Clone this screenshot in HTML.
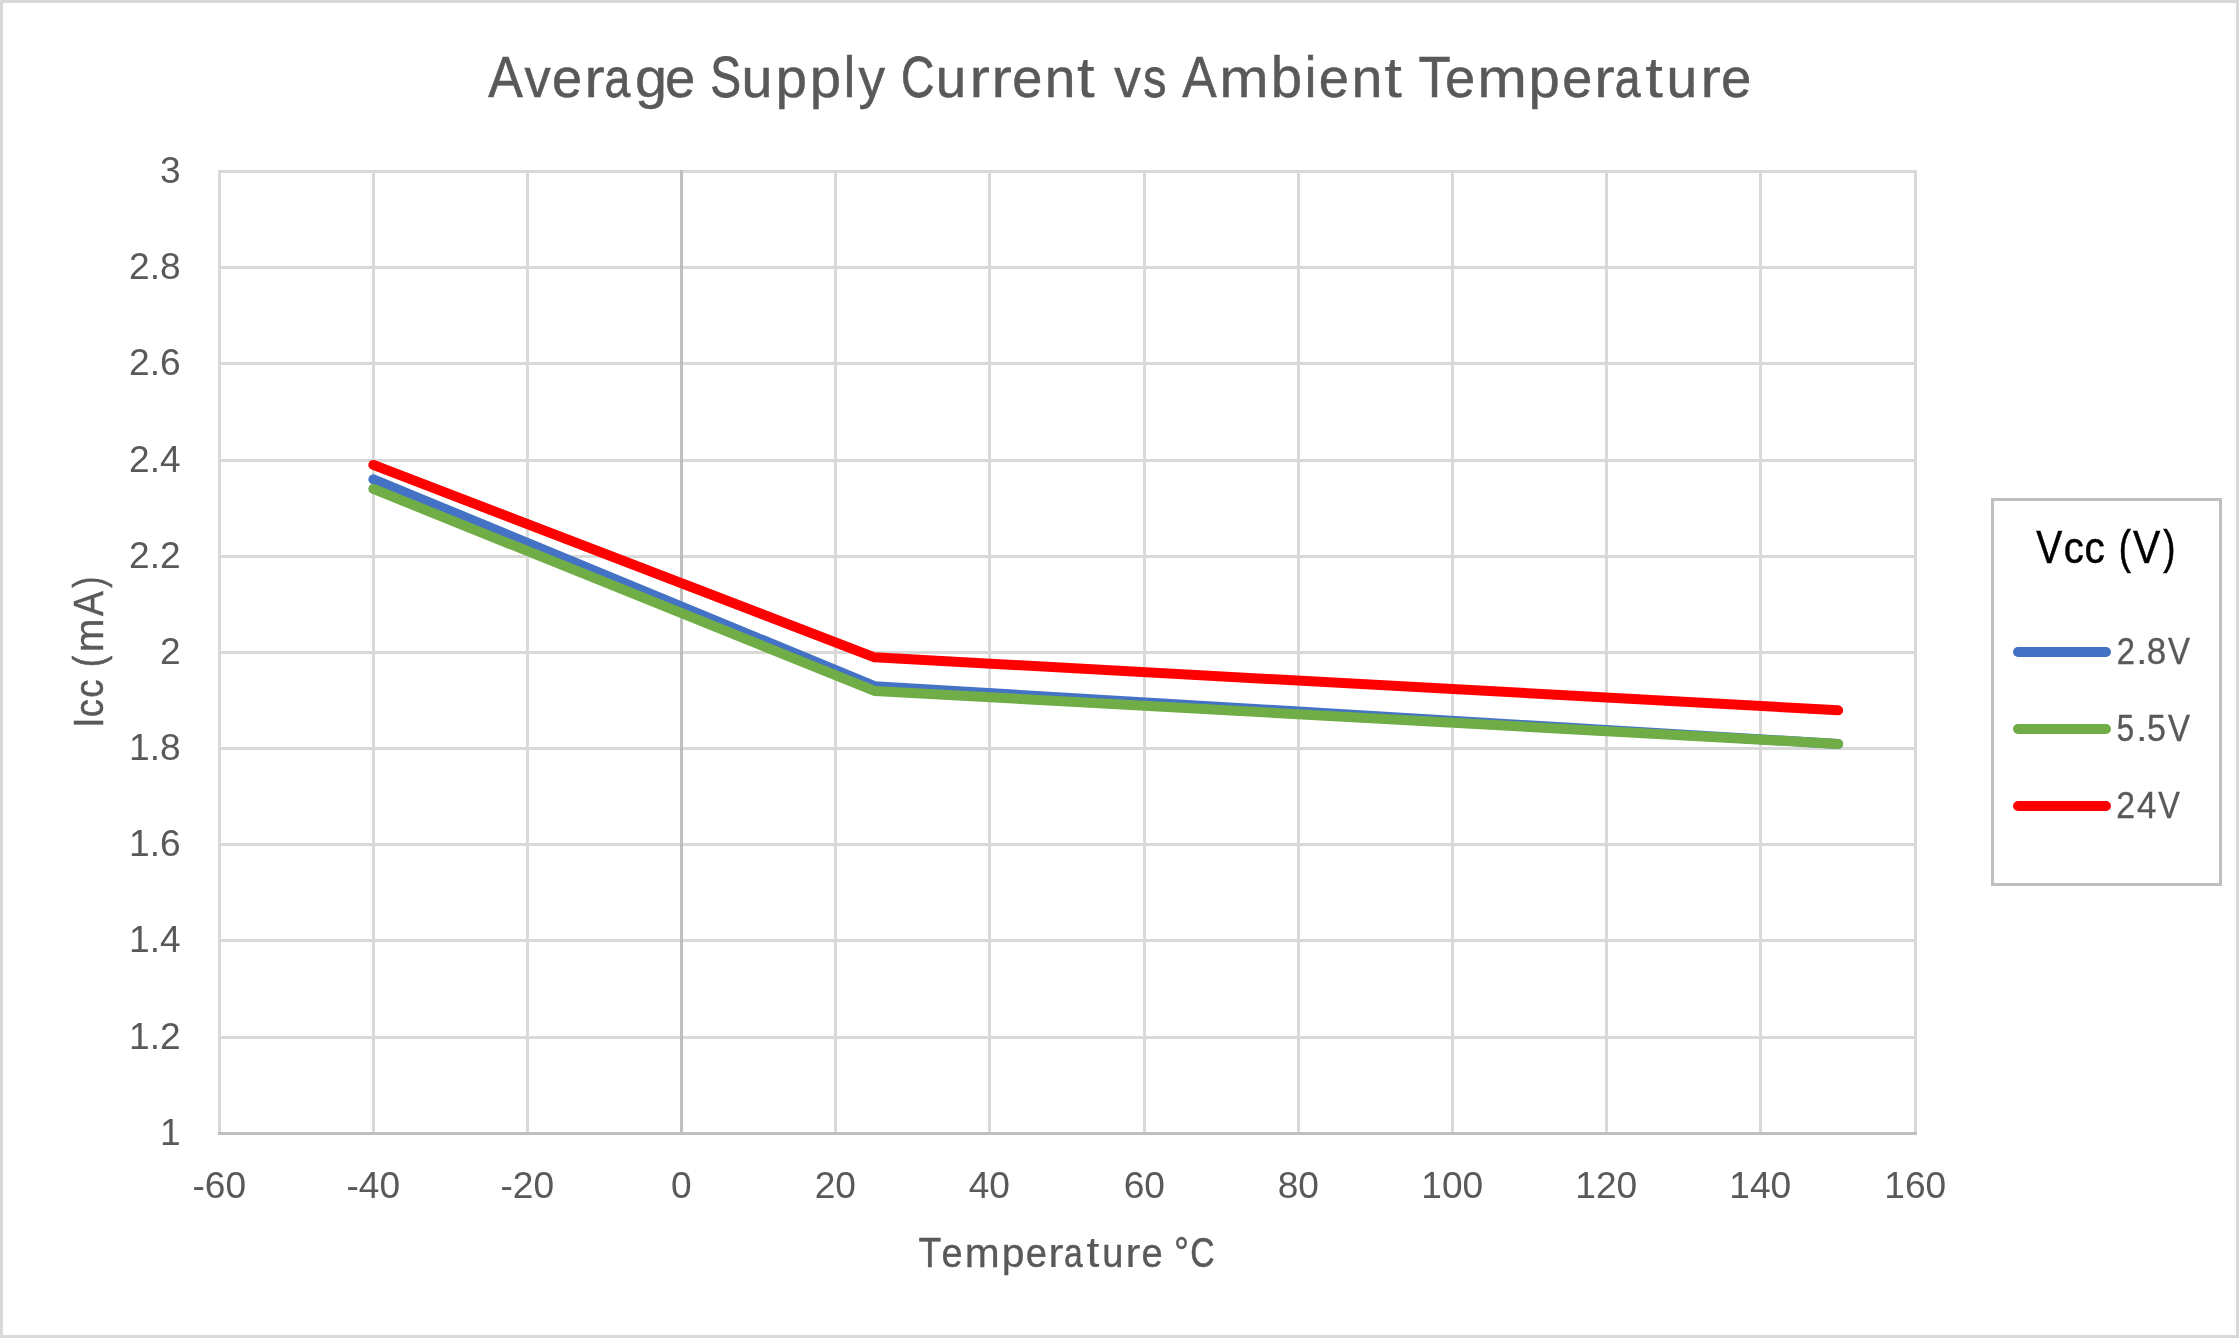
<!DOCTYPE html>
<html><head><meta charset="utf-8"><title>Average Supply Current vs Ambient Temperature</title>
<style>
html,body{margin:0;padding:0;background:#fff;}
body{width:2239px;height:1338px;overflow:hidden;font-family:"Liberation Sans",sans-serif;}
svg{display:block;will-change:transform;}
text{font-family:"Liberation Sans",sans-serif;fill:#595959;}
</style></head><body>
<svg width="2239" height="1338" viewBox="0 0 2239 1338">
<rect x="0" y="0" width="2239" height="1338" fill="#fff"/>
<rect x="1.5" y="1.5" width="2236" height="1335" fill="none" stroke="#D9D9D9" stroke-width="3"/>

<g stroke="#D9D9D9" stroke-width="3" fill="none">
<line x1="218.0" y1="171.50" x2="1917.0" y2="171.50"/>
<line x1="218.0" y1="267.50" x2="1917.0" y2="267.50"/>
<line x1="218.0" y1="363.50" x2="1917.0" y2="363.50"/>
<line x1="218.0" y1="460.50" x2="1917.0" y2="460.50"/>
<line x1="218.0" y1="556.50" x2="1917.0" y2="556.50"/>
<line x1="218.0" y1="652.50" x2="1917.0" y2="652.50"/>
<line x1="218.0" y1="748.50" x2="1917.0" y2="748.50"/>
<line x1="218.0" y1="844.50" x2="1917.0" y2="844.50"/>
<line x1="218.0" y1="940.50" x2="1917.0" y2="940.50"/>
<line x1="218.0" y1="1037.50" x2="1917.0" y2="1037.50"/>
<line x1="219.50" y1="170.0" x2="219.50" y2="1135.0"/>
<line x1="373.50" y1="170.0" x2="373.50" y2="1135.0"/>
<line x1="527.50" y1="170.0" x2="527.50" y2="1135.0"/>
<line x1="835.50" y1="170.0" x2="835.50" y2="1135.0"/>
<line x1="989.50" y1="170.0" x2="989.50" y2="1135.0"/>
<line x1="1144.50" y1="170.0" x2="1144.50" y2="1135.0"/>
<line x1="1298.50" y1="170.0" x2="1298.50" y2="1135.0"/>
<line x1="1452.50" y1="170.0" x2="1452.50" y2="1135.0"/>
<line x1="1606.50" y1="170.0" x2="1606.50" y2="1135.0"/>
<line x1="1760.50" y1="170.0" x2="1760.50" y2="1135.0"/>
<line x1="1915.50" y1="170.0" x2="1915.50" y2="1135.0"/>
</g>
<g stroke="#BFBFBF" stroke-width="3" fill="none">
<line x1="218.0" y1="1133.5" x2="1917.0" y2="1133.5"/>
<line x1="681.5" y1="170.0" x2="681.5" y2="1135.0"/>
</g>
<g fill="none" stroke-width="10" stroke-linecap="round" stroke-linejoin="round">
<polyline stroke="#4472C4" points="373.38,479.34 874.47,686.17 1838.11,743.89"/>
<polyline stroke="#70AD47" points="373.38,488.96 874.47,690.98 1838.11,743.89"/>
<polyline stroke="#FF0000" points="373.38,464.91 874.47,657.31 1838.11,710.22"/>
</g>
<rect x="1992.5" y="499.5" width="228" height="385" fill="#fff" stroke="#BFBFBF" stroke-width="3"/>
<line x1="2018" y1="652" x2="2106" y2="652" stroke="#4472C4" stroke-width="10" stroke-linecap="round"/>
<line x1="2018" y1="729" x2="2106" y2="729" stroke="#70AD47" stroke-width="10" stroke-linecap="round"/>
<line x1="2018" y1="806" x2="2106" y2="806" stroke="#FF0000" stroke-width="10" stroke-linecap="round"/>
<text transform="translate(488.15,96.9) scale(0.8976,1)" font-size="57.8" vector-effect="non-scaling-stroke" style="fill:#595959;stroke:#595959;stroke-width:0.55px">A</text>
<text transform="translate(524.57,96.9) scale(0.9051,0.962)" font-size="57.8" vector-effect="non-scaling-stroke" style="fill:#595959;stroke:#595959;stroke-width:0.54px">v</text>
<text transform="translate(551.95,96.9) scale(0.9365,0.962)" font-size="57.8" vector-effect="non-scaling-stroke" style="fill:#595959;stroke:#595959;stroke-width:0.50px">e</text>
<text transform="translate(584.16,96.9) scale(1.0657,0.962)" font-size="57.8" vector-effect="non-scaling-stroke" style="fill:#595959;stroke:#595959;stroke-width:0.30px">r</text>
<text transform="translate(604.61,96.9) scale(0.8000,0.962)" font-size="57.8" vector-effect="non-scaling-stroke" style="fill:#595959;stroke:#595959;stroke-width:0.70px">a</text>
<text transform="translate(634.93,96.9) scale(0.9964,0.962)" font-size="57.8" vector-effect="non-scaling-stroke" style="fill:#595959;stroke:#595959;stroke-width:0.41px">g</text>
<text transform="translate(665.04,96.9) scale(0.9402,0.962)" font-size="57.8" vector-effect="non-scaling-stroke" style="fill:#595959;stroke:#595959;stroke-width:0.49px">e</text>
<text transform="translate(710.14,96.9) scale(0.8000,1)" font-size="57.8" vector-effect="non-scaling-stroke" style="fill:#595959;stroke:#595959;stroke-width:0.70px">S</text>
<text transform="translate(741.44,96.9) scale(0.9612,0.962)" font-size="57.8" vector-effect="non-scaling-stroke" style="fill:#595959;stroke:#595959;stroke-width:0.46px">u</text>
<text transform="translate(775.60,96.9) scale(0.9810,0.962)" font-size="57.8" vector-effect="non-scaling-stroke" style="fill:#595959;stroke:#595959;stroke-width:0.43px">p</text>
<text transform="translate(809.72,96.9) scale(0.9733,0.962)" font-size="57.8" vector-effect="non-scaling-stroke" style="fill:#595959;stroke:#595959;stroke-width:0.44px">p</text>
<text transform="translate(843.80,96.9) scale(0.8858,1)" font-size="57.8" vector-effect="non-scaling-stroke" style="fill:#595959;stroke:#595959;stroke-width:0.57px">l</text>
<text transform="translate(858.42,96.9) scale(0.9181,0.962)" font-size="57.8" vector-effect="non-scaling-stroke" style="fill:#595959;stroke:#595959;stroke-width:0.52px">y</text>
<text transform="translate(900.96,96.9) scale(0.8000,1)" font-size="57.8" vector-effect="non-scaling-stroke" style="fill:#595959;stroke:#595959;stroke-width:0.70px">C</text>
<text transform="translate(935.79,96.9) scale(0.9489,0.962)" font-size="57.8" vector-effect="non-scaling-stroke" style="fill:#595959;stroke:#595959;stroke-width:0.48px">u</text>
<text transform="translate(969.39,96.9) scale(1.0588,0.962)" font-size="57.8" vector-effect="non-scaling-stroke" style="fill:#595959;stroke:#595959;stroke-width:0.31px">r</text>
<text transform="translate(991.23,96.9) scale(1.0727,0.962)" font-size="57.8" vector-effect="non-scaling-stroke" style="fill:#595959;stroke:#595959;stroke-width:0.29px">r</text>
<text transform="translate(1012.15,96.9) scale(0.9365,0.962)" font-size="57.8" vector-effect="non-scaling-stroke" style="fill:#595959;stroke:#595959;stroke-width:0.50px">e</text>
<text transform="translate(1044.79,96.9) scale(0.9530,0.962)" font-size="57.8" vector-effect="non-scaling-stroke" style="fill:#595959;stroke:#595959;stroke-width:0.47px">n</text>
<text transform="translate(1077.12,96.9) scale(1.1000,1)" font-size="57.8" vector-effect="non-scaling-stroke" style="fill:#595959;stroke:#595959;stroke-width:0.25px">t</text>
<text transform="translate(1114.17,96.9) scale(0.9191,0.962)" font-size="57.8" vector-effect="non-scaling-stroke" style="fill:#595959;stroke:#595959;stroke-width:0.52px">v</text>
<text transform="translate(1143.23,96.9) scale(0.8000,0.962)" font-size="57.8" vector-effect="non-scaling-stroke" style="fill:#595959;stroke:#595959;stroke-width:0.70px">s</text>
<text transform="translate(1182.35,96.9) scale(0.8923,1)" font-size="57.8" vector-effect="non-scaling-stroke" style="fill:#595959;stroke:#595959;stroke-width:0.56px">A</text>
<text transform="translate(1219.31,96.9) scale(1.0272,0.962)" font-size="57.8" vector-effect="non-scaling-stroke" style="fill:#595959;stroke:#595959;stroke-width:0.36px">m</text>
<text transform="translate(1270.71,96.9) scale(0.9772,1)" font-size="57.8" vector-effect="non-scaling-stroke" style="fill:#595959;stroke:#595959;stroke-width:0.43px">b</text>
<text transform="translate(1304.65,96.9) scale(0.9055,1)" font-size="57.8" vector-effect="non-scaling-stroke" style="fill:#595959;stroke:#595959;stroke-width:0.54px">i</text>
<text transform="translate(1318.84,96.9) scale(0.9402,0.962)" font-size="57.8" vector-effect="non-scaling-stroke" style="fill:#595959;stroke:#595959;stroke-width:0.49px">e</text>
<text transform="translate(1351.46,96.9) scale(0.9612,0.962)" font-size="57.8" vector-effect="non-scaling-stroke" style="fill:#595959;stroke:#595959;stroke-width:0.46px">n</text>
<text transform="translate(1384.27,96.9) scale(1.1000,1)" font-size="57.8" vector-effect="non-scaling-stroke" style="fill:#595959;stroke:#595959;stroke-width:0.25px">t</text>
<text transform="translate(1418.57,96.9) scale(0.9088,1)" font-size="57.8" vector-effect="non-scaling-stroke" style="fill:#595959;stroke:#595959;stroke-width:0.54px">T</text>
<text transform="translate(1444.94,96.9) scale(0.9402,0.962)" font-size="57.8" vector-effect="non-scaling-stroke" style="fill:#595959;stroke:#595959;stroke-width:0.49px">e</text>
<text transform="translate(1477.19,96.9) scale(1.0321,0.962)" font-size="57.8" vector-effect="non-scaling-stroke" style="fill:#595959;stroke:#595959;stroke-width:0.35px">m</text>
<text transform="translate(1528.62,96.9) scale(0.9733,0.962)" font-size="57.8" vector-effect="non-scaling-stroke" style="fill:#595959;stroke:#595959;stroke-width:0.44px">p</text>
<text transform="translate(1562.16,96.9) scale(0.9328,0.962)" font-size="57.8" vector-effect="non-scaling-stroke" style="fill:#595959;stroke:#595959;stroke-width:0.50px">e</text>
<text transform="translate(1594.11,96.9) scale(1.0796,0.962)" font-size="57.8" vector-effect="non-scaling-stroke" style="fill:#595959;stroke:#595959;stroke-width:0.28px">r</text>
<text transform="translate(1614.81,96.9) scale(0.8000,0.962)" font-size="57.8" vector-effect="non-scaling-stroke" style="fill:#595959;stroke:#595959;stroke-width:0.70px">a</text>
<text transform="translate(1645.22,96.9) scale(1.1000,1)" font-size="57.8" vector-effect="non-scaling-stroke" style="fill:#595959;stroke:#595959;stroke-width:0.25px">t</text>
<text transform="translate(1666.56,96.9) scale(0.9571,0.962)" font-size="57.8" vector-effect="non-scaling-stroke" style="fill:#595959;stroke:#595959;stroke-width:0.46px">u</text>
<text transform="translate(1700.13,96.9) scale(1.0727,0.962)" font-size="57.8" vector-effect="non-scaling-stroke" style="fill:#595959;stroke:#595959;stroke-width:0.29px">r</text>
<text transform="translate(1721.03,96.9) scale(0.9439,0.962)" font-size="57.8" vector-effect="non-scaling-stroke" style="fill:#595959;stroke:#595959;stroke-width:0.48px">e</text>
<text transform="translate(918.51,1267.4) scale(0.8864,1)" font-size="42.0" vector-effect="non-scaling-stroke" style="fill:#595959;stroke:#595959;stroke-width:0.41px">T</text>
<text transform="translate(941.54,1267.4) scale(0.9006,0.962)" font-size="42.0" vector-effect="non-scaling-stroke" style="fill:#595959;stroke:#595959;stroke-width:0.40px">e</text>
<text transform="translate(964.66,1267.4) scale(0.9990,0.962)" font-size="42.0" vector-effect="non-scaling-stroke" style="fill:#595959;stroke:#595959;stroke-width:0.29px">m</text>
<text transform="translate(1001.71,1267.4) scale(0.9742,0.962)" font-size="42.0" vector-effect="non-scaling-stroke" style="fill:#595959;stroke:#595959;stroke-width:0.32px">p</text>
<text transform="translate(1025.63,1267.4) scale(0.9083,0.962)" font-size="42.0" vector-effect="non-scaling-stroke" style="fill:#595959;stroke:#595959;stroke-width:0.39px">e</text>
<text transform="translate(1048.16,1267.4) scale(1.0905,0.962)" font-size="42.0" vector-effect="non-scaling-stroke" style="fill:#595959;stroke:#595959;stroke-width:0.19px">r</text>
<text transform="translate(1063.99,1267.4) scale(0.8000,0.962)" font-size="42.0" vector-effect="non-scaling-stroke" style="fill:#595959;stroke:#595959;stroke-width:0.51px">a</text>
<text transform="translate(1086.45,1267.4) scale(1.1000,1)" font-size="42.0" vector-effect="non-scaling-stroke" style="fill:#595959;stroke:#595959;stroke-width:0.18px">t</text>
<text transform="translate(1102.19,1267.4) scale(0.9024,0.962)" font-size="42.0" vector-effect="non-scaling-stroke" style="fill:#595959;stroke:#595959;stroke-width:0.40px">u</text>
<text transform="translate(1125.58,1267.4) scale(1.0667,0.962)" font-size="42.0" vector-effect="non-scaling-stroke" style="fill:#595959;stroke:#595959;stroke-width:0.22px">r</text>
<text transform="translate(1141.53,1267.4) scale(0.9083,0.962)" font-size="42.0" vector-effect="non-scaling-stroke" style="fill:#595959;stroke:#595959;stroke-width:0.39px">e</text>
<text transform="translate(1173.92,1267.4) scale(0.8920,1)" font-size="42.0" vector-effect="non-scaling-stroke" style="fill:#595959;stroke:#595959;stroke-width:0.41px">°</text>
<text transform="translate(1190.20,1267.4) scale(0.8000,1)" font-size="42.0" vector-effect="non-scaling-stroke" style="fill:#595959;stroke:#595959;stroke-width:0.51px">C</text>
<text transform="translate(2036.28,563.1) scale(0.8511,1)" font-size="45.7" vector-effect="non-scaling-stroke" style="fill:#000000;stroke:#000000;stroke-width:0.49px">V</text>
<text transform="translate(2063.65,563.1) scale(0.8780,0.962)" font-size="45.7" vector-effect="non-scaling-stroke" style="fill:#000000;stroke:#000000;stroke-width:0.46px">c</text>
<text transform="translate(2084.43,563.1) scale(0.8882,0.962)" font-size="45.7" vector-effect="non-scaling-stroke" style="fill:#000000;stroke:#000000;stroke-width:0.45px">c</text>
<text transform="translate(2118.79,563.1) scale(0.8000,1)" font-size="45.7" vector-effect="non-scaling-stroke" style="fill:#000000;stroke:#000000;stroke-width:0.55px">(</text>
<text transform="translate(2133.07,563.1) scale(0.8943,1)" font-size="45.7" vector-effect="non-scaling-stroke" style="fill:#000000;stroke:#000000;stroke-width:0.44px">V</text>
<text transform="translate(2163.34,563.1) scale(0.8000,1)" font-size="45.7" vector-effect="non-scaling-stroke" style="fill:#000000;stroke:#000000;stroke-width:0.55px">)</text>
<text transform="translate(2116.81,663.6) scale(0.8816,1)" font-size="37.1" vector-effect="non-scaling-stroke" style="fill:#595959;stroke:#595959;stroke-width:0.37px">2</text>
<text transform="translate(2136.31,663.6) scale(1.0757,1)" font-size="37.1" vector-effect="non-scaling-stroke" style="fill:#595959;stroke:#595959;stroke-width:0.18px">.</text>
<text transform="translate(2146.83,663.6) scale(0.9421,1)" font-size="37.1" vector-effect="non-scaling-stroke" style="fill:#595959;stroke:#595959;stroke-width:0.31px">8</text>
<text transform="translate(2167.91,663.6) scale(0.8886,1)" font-size="37.1" vector-effect="non-scaling-stroke" style="fill:#595959;stroke:#595959;stroke-width:0.36px">V</text>
<text transform="translate(2116.80,740.7) scale(0.8414,1)" font-size="37.1" vector-effect="non-scaling-stroke" style="fill:#595959;stroke:#595959;stroke-width:0.41px">5</text>
<text transform="translate(2136.31,740.7) scale(1.0757,1)" font-size="37.1" vector-effect="non-scaling-stroke" style="fill:#595959;stroke:#595959;stroke-width:0.18px">.</text>
<text transform="translate(2146.99,740.7) scale(0.9153,1)" font-size="37.1" vector-effect="non-scaling-stroke" style="fill:#595959;stroke:#595959;stroke-width:0.34px">5</text>
<text transform="translate(2167.91,740.7) scale(0.8886,1)" font-size="37.1" vector-effect="non-scaling-stroke" style="fill:#595959;stroke:#595959;stroke-width:0.36px">V</text>
<text transform="translate(2116.35,817.8) scale(0.9112,1)" font-size="37.1" vector-effect="non-scaling-stroke" style="fill:#595959;stroke:#595959;stroke-width:0.34px">2</text>
<text transform="translate(2137.05,817.8) scale(0.9414,1)" font-size="37.1" vector-effect="non-scaling-stroke" style="fill:#595959;stroke:#595959;stroke-width:0.31px">4</text>
<text transform="translate(2158.31,817.8) scale(0.8723,1)" font-size="37.1" vector-effect="non-scaling-stroke" style="fill:#595959;stroke:#595959;stroke-width:0.38px">V</text>
<text transform="translate(102.8,727.62) rotate(-90) scale(0.8425,1)" font-size="42.0" vector-effect="non-scaling-stroke" style="fill:#595959;stroke:#595959;stroke-width:0.46px">I</text>
<text transform="translate(102.8,717.18) rotate(-90) scale(0.8560,0.962)" font-size="42.0" vector-effect="non-scaling-stroke" style="fill:#595959;stroke:#595959;stroke-width:0.45px">c</text>
<text transform="translate(102.8,697.70) rotate(-90) scale(0.8670,0.962)" font-size="42.0" vector-effect="non-scaling-stroke" style="fill:#595959;stroke:#595959;stroke-width:0.44px">c</text>
<text transform="translate(102.8,667.04) rotate(-90) scale(0.8000,1)" font-size="42.0" vector-effect="non-scaling-stroke" style="fill:#595959;stroke:#595959;stroke-width:0.51px">(</text>
<text transform="translate(102.8,652.13) rotate(-90) scale(0.9616,0.962)" font-size="42.0" vector-effect="non-scaling-stroke" style="fill:#595959;stroke:#595959;stroke-width:0.33px">m</text>
<text transform="translate(102.8,615.92) rotate(-90) scale(0.8833,1)" font-size="42.0" vector-effect="non-scaling-stroke" style="fill:#595959;stroke:#595959;stroke-width:0.42px">A</text>
<text transform="translate(102.8,587.85) rotate(-90) scale(0.8000,1)" font-size="42.0" vector-effect="non-scaling-stroke" style="fill:#595959;stroke:#595959;stroke-width:0.51px">)</text>
<text x="180.6" y="1145.20" font-size="37.1" text-anchor="end">1</text>
<text x="180.6" y="1049.20" font-size="37.1" text-anchor="end">1.2</text>
<text x="180.6" y="952.20" font-size="37.1" text-anchor="end">1.4</text>
<text x="180.6" y="856.20" font-size="37.1" text-anchor="end">1.6</text>
<text x="180.6" y="760.20" font-size="37.1" text-anchor="end">1.8</text>
<text x="180.6" y="664.20" font-size="37.1" text-anchor="end">2</text>
<text x="180.6" y="568.20" font-size="37.1" text-anchor="end">2.2</text>
<text x="180.6" y="472.20" font-size="37.1" text-anchor="end">2.4</text>
<text x="180.6" y="375.20" font-size="37.1" text-anchor="end">2.6</text>
<text x="180.6" y="279.20" font-size="37.1" text-anchor="end">2.8</text>
<text x="180.6" y="183.20" font-size="37.1" text-anchor="end">3</text>
<text x="219.30" y="1197.9" font-size="37.1" text-anchor="middle">-60</text>
<text x="373.30" y="1197.9" font-size="37.1" text-anchor="middle">-40</text>
<text x="527.30" y="1197.9" font-size="37.1" text-anchor="middle">-20</text>
<text x="681.30" y="1197.9" font-size="37.1" text-anchor="middle">0</text>
<text x="835.30" y="1197.9" font-size="37.1" text-anchor="middle">20</text>
<text x="989.30" y="1197.9" font-size="37.1" text-anchor="middle">40</text>
<text x="1144.30" y="1197.9" font-size="37.1" text-anchor="middle">60</text>
<text x="1298.30" y="1197.9" font-size="37.1" text-anchor="middle">80</text>
<text x="1452.30" y="1197.9" font-size="37.1" text-anchor="middle">100</text>
<text x="1606.30" y="1197.9" font-size="37.1" text-anchor="middle">120</text>
<text x="1760.30" y="1197.9" font-size="37.1" text-anchor="middle">140</text>
<text x="1915.30" y="1197.9" font-size="37.1" text-anchor="middle">160</text>
</svg></body></html>
